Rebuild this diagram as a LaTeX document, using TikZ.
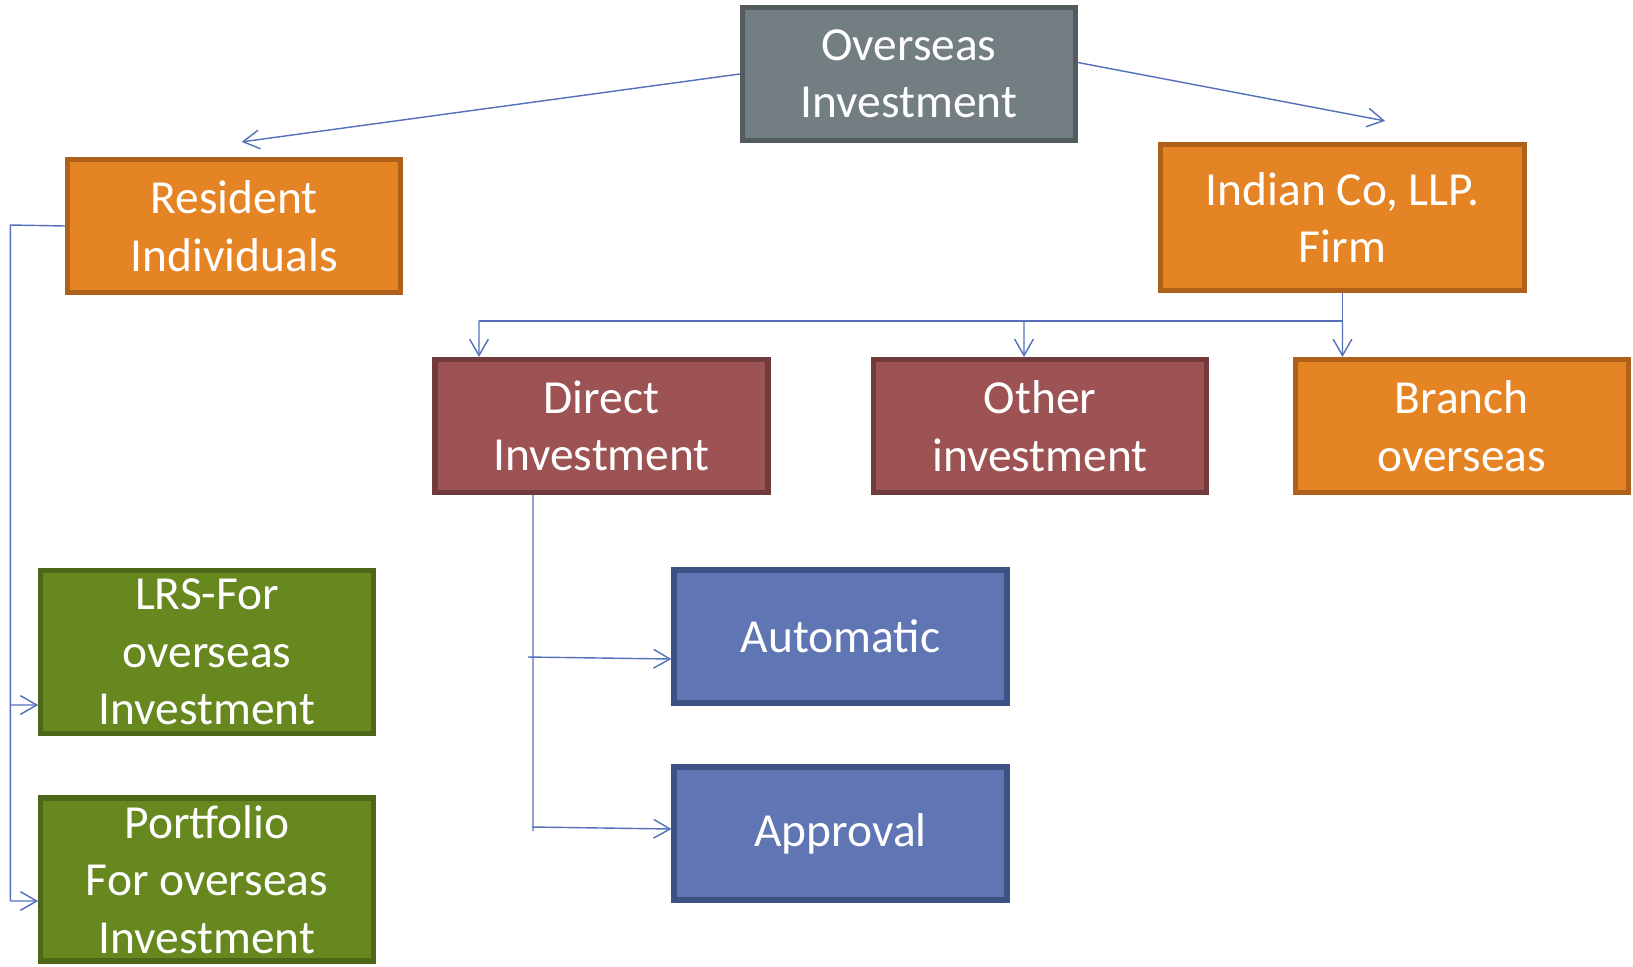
\documentclass[tikz,border=0pt]{standalone}
\usepackage{fontspec}
\setmainfont{Carlito}
\usetikzlibrary{arrows.meta}
\definecolor{grayF}{HTML}{737E83}
\definecolor{grayB}{HTML}{535B5F}
\definecolor{orF}{HTML}{E58424}
\definecolor{orB}{HTML}{AF6019}
\definecolor{redF}{HTML}{9D5253}
\definecolor{redB}{HTML}{713B3C}
\definecolor{grF}{HTML}{66881F}
\definecolor{grB}{HTML}{4D6618}
\definecolor{blF}{HTML}{6076B4}
\definecolor{blB}{HTML}{3E5184}
\definecolor{lineC}{HTML}{5470B8}
\tikzset{
  box/.style={rectangle, line width=4.4pt, inner sep=0pt, text=white, align=center,
    font=\fontsize{40.5}{49}\selectfont, minimum width=9.99cm, minimum height=3.99cm},
  graybox/.style={box, fill=grayF, draw=grayB},
  orbox/.style={box, fill=orF, draw=orB},
  redbox/.style={box, fill=redF, draw=redB},
  grbox/.style={box, fill=grF, draw=grB, minimum width=9.975cm, minimum height=4.89cm},
  blbox/.style={box, fill=blF, draw=blB},
  conn/.style={draw=lineC, line width=1.2pt},
  arr/.style={conn, -{Straight Barb[length=14pt,width=16pt]}}
}
\begin{document}
\begin{tikzpicture}[x=0.03cm,y=-0.03cm]
\useasboundingbox (0,0) rectangle (1633,966);
\node[graybox] (over) at (908.8,74) {Overseas\\Investment};
\node[orbox] (resid) at (234.3,226) {Resident\\Individuals};
\node[orbox, minimum width=10.92cm, minimum height=4.38cm] (indian) at (1342.5,217.5) {Indian Co, LLP.\\Firm};
\node[redbox] (direct) at (601.5,426) {Direct\\Investment};
\node[redbox] (other) at (1040,426) {Other\\investment};
\node[orbox] (branch) at (1461.8,426) {Branch\\overseas};
\node[grbox] (lrs) at (207,652) {LRS-For\\overseas\\Investment};
\node[grbox] (port) at (207,879.5) {Portfolio\\For overseas\\Investment};
\node[blbox] (auto) at (840.5,636.5) {Automatic};
\node[blbox] (appr) at (840.5,833.5) {Approval};

% top arrows
\draw[arr] (over.west) -- ([xshift=0.22cm,yshift=0.45cm]resid.north);
\draw[arr] ([yshift=0.345cm]over.east) -- ([xshift=1.275cm,yshift=0.63cm]indian.north);

% Indian Co branches
\coordinate (ibr) at (1342.5,320.8);
\coordinate (ibl) at (479,320.8);
\draw[conn] (indian.south) -- (ibr) -- (ibl);
\draw[arr] (ibl) -- ([xshift=-3.675cm]direct.north);
\draw[arr] (1024,320.8) -- ([xshift=-0.48cm]other.north);
\draw[arr] (ibr) -- ([xshift=-3.58cm]branch.north);

% Resident branches
\coordinate (lv) at (10.4,225);
\coordinate (lb) at (10.4,901);
\draw[conn] (resid.west) -- (lv) -- (lb);
\draw[arr] (lb) -- ([yshift=-0.645cm]port.west);
\draw[arr] (10.4,705) -- ([yshift=-1.59cm]lrs.west);

% Direct branches
\coordinate (dv) at ([xshift=-2.055cm]direct.south);
\coordinate (db) at (533,831);
\draw[conn] (dv) -- (db);
\draw[arr] (528,657) -- ([yshift=-0.675cm]auto.west);
\draw[arr] (532,827) -- ([yshift=0.135cm]appr.west);
\end{tikzpicture}
\end{document}
